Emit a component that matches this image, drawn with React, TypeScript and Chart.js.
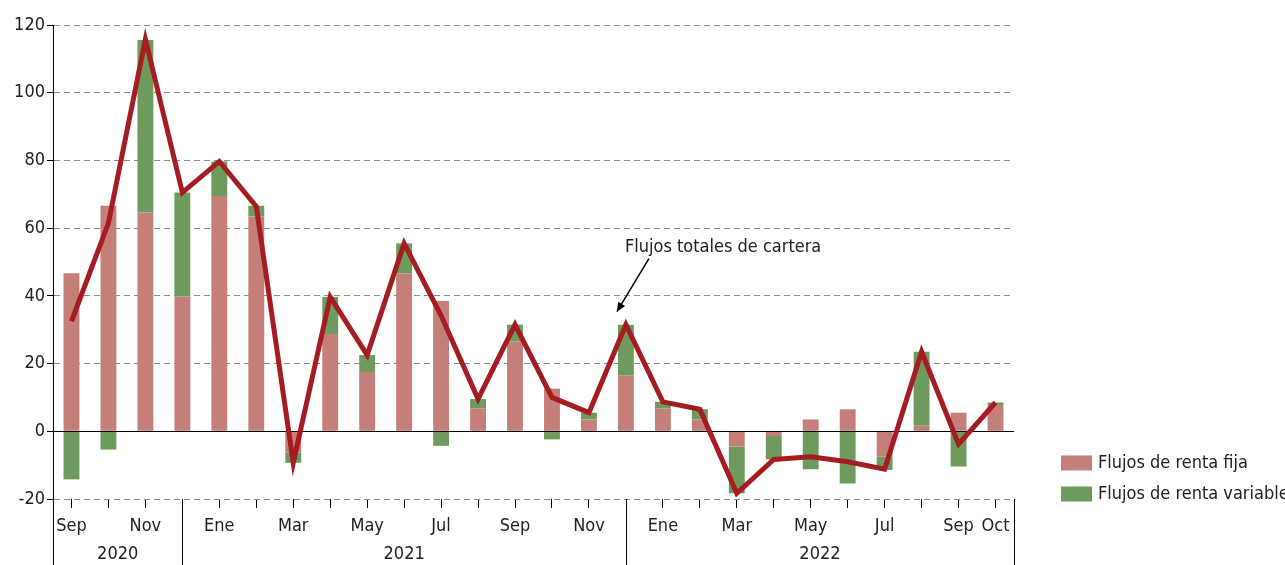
import React, { useEffect, useRef } from "react";
import { Chart, registerables } from "chart.js";

Chart.register(...registerables);

const months = [
  "Sep", "Oct", "Nov", "Dic",
  "Ene", "Feb", "Mar", "Abr", "May", "Jun", "Jul", "Ago", "Sep", "Oct", "Nov", "Dic",
  "Ene", "Feb", "Mar", "Abr", "May", "Jun", "Jul", "Ago", "Sep", "Oct",
];
const shownTickLabels = [
  "Sep", "", "Nov", "",
  "Ene", "", "Mar", "", "May", "", "Jul", "", "Sep", "", "Nov", "",
  "Ene", "", "Mar", "", "May", "", "Jul", "", "Sep", "Oct",
];
const years = ["2020", "2021", "2022"];
const yearSeparatorIndices = [3, 15];

const rentaFija = [
  46.7, 66.6, 64.6, 39.8,
  69.5, 63.4, -6.3, 28.7, 17.5, 46.6, 38.5, 6.7, 26.5, 12.6, 3.5, 16.5,
  6.7, 3.5, -4.5, -1.4, 3.5, 6.5, -7.5, 1.6, 5.5, 7.5,
];
const rentaVariable = [
  -14.2, -5.4, 51.0, 30.7,
  10.2, 3.2, -3.0, 11.0, 5.0, 8.9, -4.3, 2.8, 5.0, -2.4, 2.0, 15.0,
  2.0, 3.0, -13.8, -6.9, -11.2, -15.4, -3.9, 21.9, -10.4, 1.0,
];
const flujosTotales = [
  32.5, 61.5, 115.8, 70.5,
  79.7, 66.4, -9.3, 39.7, 22.5, 55.5, 34.2, 9.5, 31.5, 10.0, 5.5, 31.5,
  8.7, 6.5, -18.3, -8.3, -7.5, -9.0, -11.2, 23.5, -3.8, 8.5,
];

const FONT = '"Liberation Sans Narrow", "DejaVu Sans Condensed", "Roboto Condensed", sans-serif';
const TEXT = "#222";
const COL_FIJA = "#c47f7b";
const COL_VAR = "#6f9a5e";
const COL_LINE = "#a51d22";

const decorPlugin = {
  id: "decor",
  afterDatasetDraw(chart: any, args: any) {
    if (args.meta.type !== "bar") return;
    const { ctx, chartArea } = chart;
    const y = chart.scales.y.getPixelForValue(0);
    ctx.save();
    ctx.strokeStyle = "#000";
    ctx.lineWidth = 1;
    ctx.beginPath();
    ctx.moveTo(chartArea.left, Math.round(y) + 0.5);
    ctx.lineTo(chartArea.right, Math.round(y) + 0.5);
    ctx.stroke();
    ctx.restore();
  },
  afterDraw(chart: any) {
    const { ctx, chartArea } = chart;
    const xs = chart.scales.x;
    const ys = chart.scales.y;
    ctx.save();
    const seps = [chartArea.left, ...yearSeparatorIndices.map((i) => xs.getPixelForValue(i)), chartArea.right];
    ctx.strokeStyle = "#000";
    ctx.lineWidth = 1;
    const bottom = chart.height;
    seps.forEach((sx) => {
      const px = Math.round(sx) + 0.5;
      ctx.beginPath();
      ctx.moveTo(px, chartArea.bottom);
      ctx.lineTo(px, bottom);
      ctx.stroke();
    });
    ctx.fillStyle = TEXT;
    ctx.font = `18px ${FONT}`;
    ctx.textAlign = "center";
    ctx.textBaseline = "middle";
    for (let i = 0; i < years.length; i++) {
      ctx.fillText(years[i], (seps[i] + seps[i + 1]) / 2, chartArea.bottom + 55);
    }
    const ax = xs.getPixelForValue(15);
    const ay = ys.getPixelForValue(flujosTotales[15]);
    ctx.textAlign = "left";
    ctx.textBaseline = "alphabetic";
    ctx.fillText("Flujos totales de cartera", ax - 1, ay - 73);
    const x1 = ax + 23, y1 = ay - 66, x2 = ax - 9, y2 = ay - 13;
    ctx.strokeStyle = "#000";
    ctx.lineWidth = 1.5;
    ctx.beginPath();
    ctx.moveTo(x1, y1);
    ctx.lineTo(x2, y2);
    ctx.stroke();
    const ang = Math.atan2(y2 - y1, x2 - x1);
    const L = 10, W = 0.42;
    ctx.fillStyle = "#000";
    ctx.beginPath();
    ctx.moveTo(x2, y2);
    ctx.lineTo(x2 - L * Math.cos(ang - W), y2 - L * Math.sin(ang - W));
    ctx.lineTo(x2 - L * Math.cos(ang + W), y2 - L * Math.sin(ang + W));
    ctx.closePath();
    ctx.fill();
    const items = [
      { label: chart.data.datasets[1].label, color: COL_FIJA },
      { label: chart.data.datasets[2].label, color: COL_VAR },
    ];
    ctx.font = `18px ${FONT}`;
    ctx.textBaseline = "middle";
    items.forEach((it, k) => {
      const cy = 463 + k * 31;
      ctx.fillStyle = it.color;
      ctx.fillRect(1061, cy - 7.5, 31, 15);
      ctx.fillStyle = TEXT;
      ctx.fillText(it.label, 1098, cy);
    });
    ctx.restore();
  },
};

export default function App() {
  const ref = useRef<HTMLCanvasElement | null>(null);
  useEffect(() => {
    document.body.style.margin = "0";
    const canvas = ref.current;
    if (!canvas) return;
    const chart = new Chart(canvas, {
      type: "bar",
      data: {
        labels: months,
        datasets: [
          {
            type: "line",
            label: "Flujos totales de cartera",
            data: flujosTotales,
            borderColor: COL_LINE,
            borderWidth: 5,
            pointRadius: 0,
            tension: 0,
            borderJoinStyle: "miter",
            stack: "total",
            order: 0,
            fill: false,
          } as any,
          {
            label: "Flujos de renta fija",
            data: rentaFija,
            backgroundColor: COL_FIJA,
            stack: "flujos",
            order: 1,
            barPercentage: 0.43,
            categoryPercentage: 1,
          },
          {
            label: "Flujos de renta variable",
            data: rentaVariable,
            backgroundColor: COL_VAR,
            stack: "flujos",
            order: 1,
            barPercentage: 0.43,
            categoryPercentage: 1,
          },
        ],
      },
      options: {
        responsive: false,
        animation: false,
        layout: { padding: { left: 0, right: 271, top: 25, bottom: 0 } },
        plugins: { legend: { display: false }, tooltip: { enabled: false } },
        scales: {
          x: {
            stacked: true,
            offset: true,
            grid: {
              display: true,
              offset: false,
              drawOnChartArea: false,
              drawTicks: true,
              tickLength: 9,
              tickColor: (c: any) => (yearSeparatorIndices.includes(c.index) ? "rgba(0,0,0,0)" : "#000"),
            },
            border: { display: false },
            ticks: {
              autoSkip: false,
              maxRotation: 0,
              padding: 8,
              color: TEXT,
              font: { family: FONT, size: 18 },
              callback: (_v: any, i: number) => shownTickLabels[i],
            },
            afterFit: (s: any) => {
              s.height = 66;
            },
          },
          y: {
            stacked: true,
            min: -20,
            max: 120,
            grid: {
              color: (c: any) => (c.tick && c.tick.value === 0 ? "rgba(0,0,0,0)" : "#8a8a8a"),
              lineWidth: 1,
              drawTicks: true,
              tickLength: 6,
              tickColor: "#000",
            },
            border: {
              display: true,
              color: "#000",
              width: 1,
              dash: [6, 4],
            },
            ticks: {
              stepSize: 20,
              padding: 2,
              color: TEXT,
              font: { family: FONT, size: 18 },
            },
            afterFit: (s: any) => {
              s.width = 53;
            },
          },
        },
      },
      plugins: [decorPlugin],
    });
    return () => chart.destroy();
  }, []);
  return (
    <div style={{ width: 1285, height: 565 }}>
      <canvas ref={ref} width={1285} height={565} style={{ display: "block" }} />
    </div>
  );
}
